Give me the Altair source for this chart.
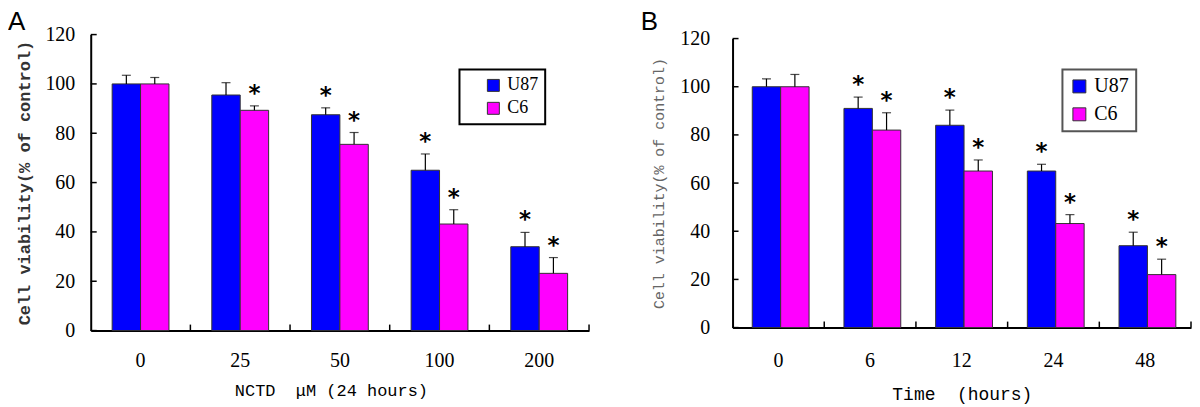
import altair as alt
import pandas as pd

# ---------------- data ----------------
SERIES = ["U87", "C6"]
COLORS = ["#0000FF", "#FF00FF"]

conc_a = ["0", "25", "50", "100", "200"]
u87_a = [100, 95.5, 87.5, 65, 34]
u87_a_err = [3.5, 5.0, 2.8, 6.6, 5.8]
u87_a_sig = [False, False, True, True, True]
c6_a = [100, 89.3, 75.5, 43.2, 23.2]
c6_a_err = [2.6, 1.8, 4.8, 5.8, 6.4]
c6_a_sig = [False, True, True, True, True]

time_b = ["0", "6", "12", "24", "48"]
u87_b = [100, 91, 84, 65, 34]
u87_b_err = [3.3, 4.7, 6.3, 2.8, 5.6]
u87_b_sig = [False, True, True, True, True]
c6_b = [100, 82, 65, 43.2, 22]
c6_b_err = [5.1, 7.2, 4.6, 3.7, 6.4]
c6_b_sig = [False, True, True, True, True]

y_ticks = [0, 20, 40, 60, 80, 100, 120]
NB = "\u00a0"
y_title = "Cell viability(% of control)"
x_title_a = "NCTD" + NB * 2 + "μM" + NB + "(24 hours)"
x_title_b = "Time" + NB * 2 + "(hours)"


def frame(cats, u, ue, us, c, ce, cs):
    rows = []
    for i, cat in enumerate(cats):
        rows.append(dict(cat=cat, series="U87", value=u[i], top=u[i] + ue[i], sig=us[i]))
        rows.append(dict(cat=cat, series="C6", value=c[i], top=c[i] + ce[i], sig=cs[i]))
    return pd.DataFrame(rows)


PAD_IN = 0.43
PAD_OUT = PAD_IN / 2


def panel(df, cats, letter, width, height, xtitle, st):
    if st["ytop"]:
        yscale = alt.Scale(domain=[0, 120], nice=False, range=[height, st["ytop"]])
    else:
        yscale = alt.Scale(domain=[0, 120], nice=False)
    xscale = alt.Scale(paddingInner=PAD_IN, paddingOuter=PAD_OUT)
    xoff = alt.XOffset("series:N", sort=SERIES)
    base = alt.Chart(df)
    step = width / len(cats)

    xaxis = alt.Axis(title=xtitle, labelAngle=0, ticks=False, grid=False,
                     domainColor="black", domainWidth=2,
                     labelFont="Liberation Serif", labelFontSize=20,
                     labelColor="black", labelPadding=st["xlp"],
                     titleFont="Liberation Mono", titleFontSize=st["xtfs"],
                     titleFontWeight="normal", titleColor="black",
                     titlePadding=st["xtp"], titleX=st["xtx"])
    yaxis = alt.Axis(title=y_title, values=y_ticks, ticks=False, grid=False,
                     domainColor="black", domainWidth=2,
                     labelFont="Liberation Serif", labelFontSize=20,
                     labelColor="black", labelPadding=st["ylp"],
                     titleFont="Liberation Mono", titleFontSize=st["ytfs"],
                     titleFontWeight=st["ytfw"], titleColor=st["ytc"],
                     titlePadding=st["ytp"])

    def xn(**kw):
        return alt.X("cat:N", sort=cats, scale=xscale, axis=xaxis, title=xtitle, **kw)

    def yn(f):
        return alt.Y(f, scale=yscale, axis=yaxis, title=y_title)

    bars = base.mark_bar(stroke="#333333", strokeWidth=1).encode(
        x=xn(), xOffset=xoff, y=yn("value:Q"),
        color=alt.Color("series:N", scale=alt.Scale(domain=SERIES, range=COLORS),
                        legend=alt.Legend(title=None, orient="none",
                                          legendX=st["lx"], legendY=st["ly"],
                                          symbolType="square", symbolSize=st["ss"],
                                          symbolStrokeColor="#333333", symbolStrokeWidth=1,
                                          labelFont="Liberation Serif",
                                          labelFontSize=st["lfs"], labelColor="black",
                                          labelOffset=5, padding=st["lpad"],
                                          rowPadding=st["lrp"], symbolOffset=st["lso"],
                                          strokeColor=st["lsc"])),
    )

    err = base.mark_rule(color="black", strokeWidth=1.2).encode(
        x=xn(), xOffset=xoff, y=yn("value:Q"), y2="top:Q")
    cap = base.mark_tick(color="black", thickness=1.2, size=9).encode(
        x=xn(), xOffset=xoff, y=yn("top:Q"))
    star = base.transform_filter(alt.datum.sig).mark_text(
        text="*", font="DejaVu Sans", fontSize=23, fontWeight="bold",
        color="black", baseline="alphabetic", dy=-5).encode(
        x=xn(), xOffset=xoff, y=yn("top:Q"))

    ytick = alt.Chart(pd.DataFrame({"t": y_ticks})).mark_rule(
        color="black", strokeWidth=1.5).encode(
        y=yn("t:Q"), x=alt.value(0), x2=alt.value(6))
    xtick = alt.Chart(pd.DataFrame({"cat": cats})).mark_rule(
        color="black", strokeWidth=1.5, xOffset=step * PAD_IN / 2).encode(
        x=xn(bandPosition=1),
        y=alt.value(height), y2=alt.value(height - 6))

    label = alt.Chart(pd.DataFrame({"t": [letter]})).mark_text(
        font="Liberation Sans", fontSize=26, align="left", baseline="top",
        color="black").encode(
        text="t:N", x=alt.value(st["tx"]), y=alt.value(st["ty"]))

    return alt.layer(bars, err, cap, star, ytick, xtick, label).properties(
        width=width, height=height)


df_a = frame(conc_a, u87_a, u87_a_err, u87_a_sig, c6_a, c6_a_err, c6_a_sig)
df_b = frame(time_b, u87_b, u87_b_err, u87_b_sig, c6_b, c6_b_err, c6_b_sig)

style_a = dict(xlp=20, xtfs=17, xtp=12, xtx=241, ylp=16, ytfs=17, ytfw="bold",
               ytc="#333333", ytp=11, lx=370, ly=35, ss=144, lfs=18, lpad=7, lrp=5,
               lso=18, lsc="black", tx=-83, ty=-26, ytop=0)
style_b = dict(xlp=23, xtfs=18, xtp=15, xtx=230, ylp=23, ytfs=15, ytfw="normal",
               ytc="#666666", ytp=13, lx=331, ly=35, ss=169, lfs=20, lpad=7, lrp=8,
               lso=0, lsc="#555555", tx=-92, ty=-26, ytop=4)

chart_a = panel(df_a, conc_a, "A", 500, 297, x_title_a, style_a)
chart_b = panel(df_b, time_b, "B", 460, 294, x_title_b, style_b)

chart = alt.hconcat(chart_a, chart_b, spacing=51).resolve_scale(
    color="independent").properties(padding=0).configure_view(
    stroke=None).configure_legend(strokeWidth=2)

chart.save("out.html", embed_options={"renderer": "svg", "actions": False})
